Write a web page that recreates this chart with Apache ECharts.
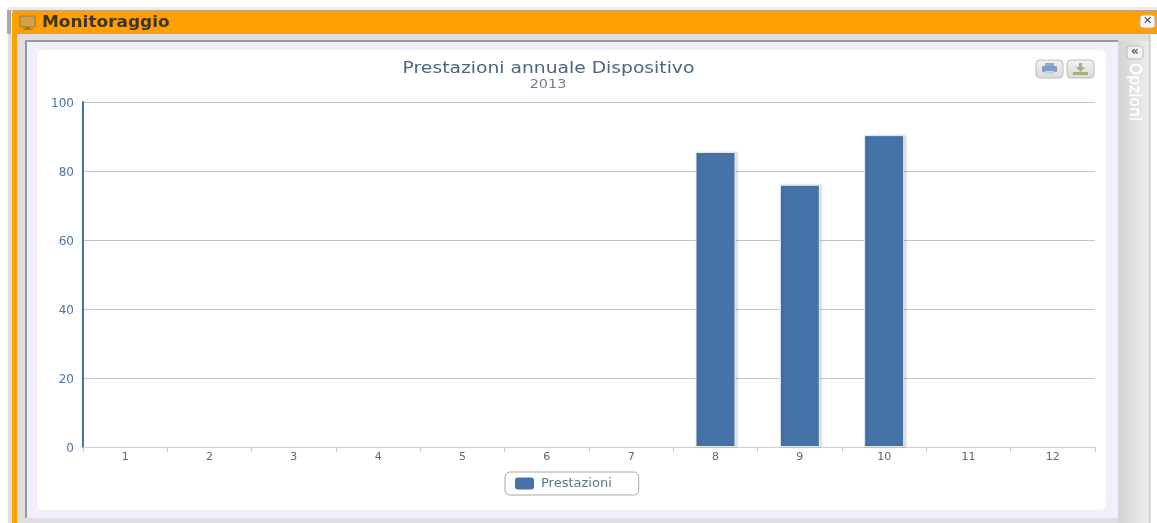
<!DOCTYPE html>
<html><head><meta charset="utf-8">
<style>html,body{margin:0;padding:0;background:#fff;overflow:hidden}#c{width:1157px;height:523px}</style>
<script src="https://cdn.jsdelivr.net/npm/echarts@6/dist/echarts.min.js"></script>
</head><body><div id="c"></div>
<script>
const categories = ['1','2','3','4','5','6','7','8','9','10','11','12'];
const prestazioni = [0,0,0,0,0,0,0,85.5,76,90.4,0,0];
const yTicks = {min:0,max:100,interval:20};
const seriesName = 'Prestazioni';
const titleText = 'Prestazioni annuale Dispositivo';
const subtitleText = '2013';
const windowTitle = 'Monitoraggio';
const sideLabel = 'Opzioni';
const font = '"DejaVu Sans", sans-serif';
const rect = (x,y,w,h,fill,r,z,stroke) => ({type:'rect',shape:{x,y,width:w,height:h,r:r||0},style:{fill,stroke:stroke||null,lineWidth:stroke?1:0},z:z||0,silent:true});
const stretched = (x,y,text,fill,f,sx,align) => ({type:'text',x,y,scaleX:sx,style:{x:0,y:0,text,fill,font:f,align,verticalAlign:'middle'},z:5,silent:true});
const btnFill = {type:'linear',x:0,y:0,x2:0,y2:1,colorStops:[{offset:0,color:'#f2f2f2'},{offset:1,color:'#d9d9d9'}]};
const chrome = [
  rect(0,0,1157,523,'#ffffff',0,-20),
  rect(8,7,1149,4,'#ececec',0,-19),
  rect(8,34,4,489,'#dedede',0,-19),
  rect(7,10,4,24,'#a8a8a8',0,-18),
  rect(12,11,1145,23,'#ff9f00',[3,0,0,0],-17),
  rect(12,34,5,489,'#ff9f00',0,-17),
  rect(12,10,1145,1.5,'#b9a98a',0,-16),
  rect(17,34,1133,489,'#dedede',0,-15),
  rect(25,41,1093,478,'#f0f0fd',0,-14),
  rect(25,40,1093,2,'#999999',0,-13),
  rect(25,40,2,480,'#999999',0,-13),
  rect(25,518,1093,5,'#dedede',0,-13),
  rect(37,50,1069,460,'#ffffff',6,-12),
  {type:'rect',shape:{x:1118,y:41,width:31,height:482},style:{fill:{type:'linear',x:0,y:0,x2:1,y2:0,colorStops:[{offset:0,color:'#d4d4d4'},{offset:1,color:'#ececec'}]}},z:-11,silent:true},
  rect(1149,34,1.5,489,'#c9c9c9',0,-11),
  rect(1127,46,16,13,'#f2f2f2',3,-10,'#bbbbbb'),
  {type:'text',style:{x:1135,y:52,text:'«',fill:'#555',font:'bold 12px '+font,align:'center',verticalAlign:'middle'},z:-9,silent:true},
  {type:'text',x:1134,y:92,rotation:-Math.PI/2,style:{text:sideLabel,fill:'#ffffff',stroke:'#ffffff',lineWidth:0.5,font:'15.5px '+font,align:'center',verticalAlign:'middle'},z:-9,silent:true},
  rect(1140,15,15,13,'#f4f4f4',3,-10,'#b5b5b5'),
  {type:'text',style:{x:1147.5,y:21,text:'✕',fill:'#444',font:'bold 11px '+font,align:'center',verticalAlign:'middle'},z:-9,silent:true},
  rect(20,16,15,11,'#d8a040',1,-10,'#8a7a5a'),
  rect(25,27,5,2,'#8a7a5a',0,-10),
  rect(23,29,10,1,'#8a7a5a',0,-10),
  stretched(42,23,windowTitle,'#3c3528','bold 15px '+font,1.13,'left'),
  stretched(548.5,69,titleText,'#4d6480','16px '+font,1.17,'center'),
  stretched(548,85,subtitleText,'#708090','12px '+font,1.2,'center'),
  {type:'rect',shape:{x:1036,y:60,width:27,height:18,r:4},style:{fill:btnFill,stroke:'#bcbcbc',lineWidth:1},z:-10,silent:true},
  {type:'rect',shape:{x:1067,y:60,width:27,height:18,r:4},style:{fill:btnFill,stroke:'#bcbcbc',lineWidth:1},z:-10,silent:true},
  rect(1045,63,9,3,'#8fa9c6',0,-9),
  rect(1042,66,15,6,'#7f9dbf',1,-9),
  rect(1045,71,9,3,'#c5d2e0',0,-9),
  rect(1073,72,15,3,'#a5b07d',0,-9),
  rect(1079,63,3,5,'#a5b07d',0,-9),
  {type:'polygon',shape:{points:[[1076,67],[1085,67],[1080.5,72]]},style:{fill:'#a5b07d'},z:-9,silent:true}
];
const barStyle = {color:'#4572a7',borderColor:'#e4ecf4',borderWidth:1,shadowColor:'rgba(0,0,0,0.13)',shadowBlur:2,shadowOffsetX:2,shadowOffsetY:0};
const flatStyle = {color:'#4572a7',borderWidth:0,shadowBlur:0,shadowOffsetX:0,shadowColor:'transparent'};
const chart = echarts.init(document.getElementById('c'),null,{renderer:'canvas'});
chart.setOption({
  animation:false,
  backgroundColor:'transparent',
  textStyle:{fontFamily:font},
  grid:{left:83,top:102,width:1012,height:345,containLabel:false},
  xAxis:{type:'category',data:categories,boundaryGap:true,
    axisLine:{lineStyle:{color:'#c0d0e0',width:1}},
    axisTick:{show:true,alignWithLabel:false,length:5,lineStyle:{color:'#c0d0e0'}},
    axisLabel:{color:'#666666',fontSize:11,margin:5},splitLine:{show:false}},
  yAxis:{type:'value',min:yTicks.min,max:yTicks.max,interval:yTicks.interval,
    axisLine:{show:true,lineStyle:{color:'#4572a7',width:2}},axisTick:{show:false},
    axisLabel:{color:'#4d759e',fontSize:12,margin:9,verticalAlign:'top',lineHeight:4},
    splitLine:{lineStyle:{color:'#c4c4c4',width:1}}},
  legend:{data:[{name:seriesName,icon:'roundRect',itemStyle:flatStyle}],left:505,top:472,orient:'horizontal',
    itemWidth:19,itemHeight:12,itemGap:0,padding:[5,27,5,10],
    borderColor:'#a8a8a8',borderWidth:1,borderRadius:5,backgroundColor:'#ffffff',
    textStyle:{color:'#5f7590',fontSize:13,padding:[0,0,0,2]}},
  series:[{name:seriesName,type:'bar',barWidth:40,
    data:prestazioni.map(v => ({value:v,itemStyle:v>0?barStyle:flatStyle})),
    itemStyle:flatStyle}],
  graphic:{elements:chrome}
});
</script></body></html>
